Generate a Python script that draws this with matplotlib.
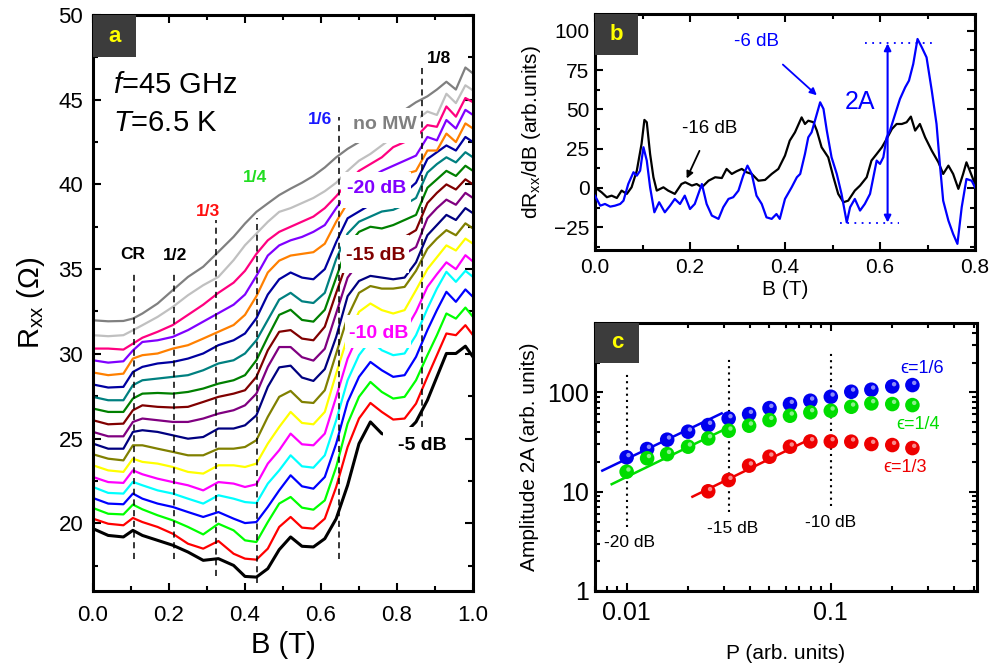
import numpy as np
import matplotlib
matplotlib.use('Agg')
import matplotlib.pyplot as plt
from matplotlib.patches import Rectangle
from matplotlib.ticker import MultipleLocator, FixedLocator, NullFormatter, FixedFormatter
import matplotlib.transforms as mtransforms

plt.rcParams['font.family'] = ['Liberation Sans', 'DejaVu Sans']
plt.rcParams['mathtext.fontset'] = 'custom'
plt.rcParams['mathtext.rm'] = 'Liberation Sans'
plt.rcParams['mathtext.it'] = 'Liberation Sans:italic'
plt.rcParams['mathtext.bf'] = 'Liberation Sans:bold'

# ---------------- panel a data ----------------
B_a = [0.00, 0.04, 0.08, 0.105, 0.13, 0.17, 0.21, 0.25, 0.29, 0.33, 0.37, 0.40, 0.43, 0.46, 0.49,
       0.52, 0.55, 0.58, 0.61, 0.64, 0.67, 0.70, 0.73, 0.76, 0.79, 0.82, 0.85, 0.88, 0.905, 0.93,
       0.955, 0.98, 1.00]

R_m5dB = [19.68, 19.28, 19.19, 19.58, 19.28, 18.99, 18.70, 18.30, 17.81, 17.91, 17.51, 16.86, 16.82, 17.32, 18.44,
          19.19, 18.64, 18.60, 19.09, 20.27, 22.24, 24.70, 25.98, 25.29, 25.10, 25.29, 25.98, 27.26, 28.64, 30.02,
          30.02, 30.45, 29.82]
R_red = [20.27, 19.97, 19.88, 20.31, 20.07, 19.78, 19.38, 18.79, 18.50, 18.95, 18.20, 17.91, 17.85, 18.50, 19.78,
         20.37, 19.74, 19.68, 20.27, 22.14, 24.50, 26.18, 27.10, 26.57, 26.12, 26.18, 27.06, 28.64, 29.92, 31.20,
         31.10, 31.69, 31.10]
R_green = [20.90, 20.56, 20.52, 21.10, 20.82, 20.47, 20.17, 19.78, 19.34, 19.97, 19.58, 18.99, 18.89, 20.07, 21.16,
           21.55, 20.92, 20.80, 21.35, 23.32, 25.88, 27.46, 28.34, 27.75, 27.36, 27.46, 28.44, 29.92, 31.10, 32.38,
           32.08, 32.73, 32.18]
R_blue = [21.49, 21.16, 21.12, 21.75, 21.45, 21.16, 20.96, 20.66, 20.37, 20.66, 20.27, 20.01, 20.07, 20.96, 21.94,
          22.83, 22.18, 22.04, 22.73, 24.70, 27.16, 28.64, 29.52, 29.03, 28.64, 28.74, 29.82, 31.40, 32.58, 33.66,
          33.07, 33.80, 33.36]
R_cyan = [22.14, 21.79, 21.75, 22.44, 22.24, 21.94, 21.75, 21.45, 21.16, 21.65, 21.45, 21.25, 21.19, 22.34, 23.12,
          24.01, 23.36, 23.28, 24.01, 26.08, 28.44, 29.92, 30.80, 30.21, 29.92, 30.02, 31.10, 32.67, 33.85, 34.84,
          34.25, 34.90, 34.54]
R_m10dB = [22.73, 22.43, 22.38, 23.12, 22.89, 22.63, 22.43, 22.24, 21.94, 22.43, 22.34, 22.14, 22.30, 23.52, 24.31,
           25.29, 24.66, 24.60, 25.29, 27.46, 29.72, 31.20, 32.08, 31.49, 31.20, 31.30, 32.48, 33.95, 34.70, 35.40,
           35.00, 35.82, 35.45]
R_yellow = [23.42, 23.12, 23.03, 23.81, 23.62, 23.52, 23.32, 23.03, 22.93, 23.42, 23.42, 23.32, 23.52, 24.70, 25.68,
            26.57, 25.92, 25.84, 26.57, 28.84, 31.00, 32.48, 32.97, 32.58, 32.38, 32.58, 33.76, 35.00, 35.70, 36.40,
            36.10, 36.80, 36.50]
R_dkyellow = [24.07, 23.81, 23.71, 24.60, 24.60, 24.40, 24.21, 24.01, 24.01, 24.40, 24.40, 24.50, 24.90, 26.28, 27.46,
              27.81, 27.16, 27.10, 27.85, 30.02, 32.18, 33.60, 34.00, 33.85, 33.85, 33.95, 34.90, 36.20, 36.80, 37.30,
              37.00, 37.70, 37.40]
R_navy = [24.70, 24.40, 24.40, 25.39, 25.49, 25.39, 25.19, 24.99, 25.09, 25.59, 25.59, 25.78, 26.37, 28.05, 29.20,
          29.30, 28.60, 28.40, 29.10, 31.00, 33.40, 34.30, 34.60, 34.50, 34.40, 34.50, 35.40, 37.00, 37.60, 38.20,
          37.90, 38.60, 38.30]
R_purple = [25.39, 25.13, 25.13, 25.98, 26.18, 26.08, 25.98, 25.98, 26.18, 26.47, 26.67, 26.96, 27.65, 29.23, 30.40,
            30.40, 29.80, 29.60, 30.30, 32.40, 34.50, 35.40, 35.80, 35.80, 35.80, 35.90, 36.30, 38.00, 38.60, 39.10,
            38.80, 39.50, 39.20]
R_m15dB = [26.08, 25.84, 25.88, 26.67, 26.96, 26.87, 26.83, 26.87, 27.16, 27.46, 27.65, 27.85, 28.64, 30.21, 31.30,
           31.40, 30.90, 30.80, 31.60, 33.60, 35.50, 36.40, 36.80, 36.80, 36.80, 36.90, 37.30, 38.90, 39.50, 40.00,
           39.70, 40.30, 40.00]
R_olive = [26.77, 26.57, 26.57, 27.36, 27.65, 27.69, 27.65, 27.75, 27.95, 28.24, 28.44, 28.74, 29.62, 31.00, 32.30,
           32.60, 32.00, 31.90, 32.60, 34.50, 36.40, 37.20, 37.50, 37.40, 37.60, 37.90, 38.20, 39.80, 40.30, 40.80,
           40.50, 41.10, 40.80]
R_dkcyan = [27.46, 27.26, 27.26, 28.15, 28.44, 28.54, 28.64, 28.74, 29.03, 29.43, 29.62, 30.02, 30.80, 32.00, 33.20,
            33.60, 33.10, 33.00, 33.60, 35.60, 37.10, 37.80, 38.10, 38.40, 38.50, 38.80, 39.20, 40.70, 41.20, 41.60,
            41.30, 41.90, 41.60]
R_royal = [28.19, 28.01, 28.05, 28.93, 29.23, 29.43, 29.52, 29.72, 30.02, 30.51, 30.80, 31.20, 32.10, 33.50, 34.40,
           34.80, 34.50, 34.40, 35.00, 36.60, 38.00, 38.40, 38.80, 39.00, 39.20, 39.50, 40.10, 41.50, 41.90, 42.30,
           42.00, 42.80, 42.50]
R_orange = [28.90, 28.74, 28.83, 29.72, 29.92, 30.02, 30.31, 30.51, 30.90, 31.30, 31.70, 32.30, 33.40, 34.80, 35.50,
            35.80, 35.90, 36.00, 36.50, 37.80, 38.90, 39.30, 39.60, 39.90, 40.20, 40.60, 40.80, 42.00, 42.00, 43.00,
            42.50, 43.60, 43.30]
R_m20dB = [29.62, 29.48, 29.56, 30.20, 30.70, 30.80, 31.00, 31.40, 31.90, 32.40, 32.90, 33.50, 34.60, 35.80, 36.40,
           36.70, 36.90, 37.20, 37.60, 38.60, 39.50, 40.00, 40.40, 40.80, 41.10, 41.40, 41.70, 42.80, 42.60, 43.80,
           43.30, 44.40, 44.10]
R_pink = [30.31, 30.31, 30.25, 30.60, 30.95, 31.30, 31.70, 32.30, 32.90, 33.60, 34.20, 34.90, 35.90, 36.70, 37.20,
          37.50, 37.80, 38.10, 38.60, 39.30, 40.10, 40.80, 41.20, 41.60, 42.20, 42.50, 42.80, 43.50, 43.40, 44.60,
          44.00, 45.10, 44.85]
R_ltgray = [31.10, 31.04, 31.10, 31.39, 31.69, 32.18, 32.77, 33.46, 34.05, 34.54, 35.53, 36.41, 37.10, 37.79, 38.38,
            38.60, 38.90, 39.20, 39.60, 40.10, 40.80, 41.40, 41.80, 42.30, 42.80, 43.30, 43.80, 44.30, 44.10, 45.35,
            44.80, 45.85, 45.55]
R_noMW = [31.98, 31.92, 31.94, 32.08, 32.38, 32.97, 33.76, 34.54, 35.14, 36.02, 36.91, 37.69, 38.38, 38.88, 39.37,
          39.75, 40.10, 40.50, 41.00, 41.60, 42.10, 42.50, 42.90, 43.30, 43.80, 44.40, 44.85, 45.20, 45.60, 46.06,
          45.60, 46.90, 46.55]

curves_a = [R_m5dB, R_red, R_green, R_blue, R_cyan, R_m10dB, R_yellow, R_dkyellow, R_navy, R_purple,
            R_m15dB, R_olive, R_dkcyan, R_royal, R_orange, R_m20dB, R_pink, R_ltgray, R_noMW]
colors_a = ['#000000', '#ff0000', '#00ff00', '#0000ff', '#00ffff', '#ff00ff', '#ffff00', '#808000', '#000080',
            '#800080', '#800000', '#008000', '#008080', '#0000a0', '#ff8000', '#8000ff', '#ff0080', '#c0c0c0',
            '#808080']

# dashed marker lines: position, bottom, top
marks_B = [0.108, 0.214, 0.324, 0.432, 0.648, 0.865]
marks_lo = [17.87, 17.87, 16.9, 16.5, 17.9, 25.7]
marks_hi = [34.9, 34.9, 37.9, 38.0, 44.0, 47.0]

# ---------------- panel b data ----------------
B_b16 = [0, 0.014, 0.025, 0.035, 0.046, 0.056, 0.067, 0.077, 0.088, 0.098,
         0.104, 0.109, 0.116, 0.123, 0.13, 0.144, 0.154, 0.168, 0.182, 0.19,
         0.204, 0.214, 0.225, 0.239, 0.253, 0.267, 0.277, 0.288, 0.298, 0.309,
         0.319, 0.33, 0.344, 0.358, 0.372, 0.386, 0.4, 0.41, 0.421, 0.435,
         0.442, 0.449, 0.46, 0.467, 0.477, 0.491, 0.502, 0.512, 0.523, 0.533,
         0.547, 0.558, 0.572, 0.582, 0.593, 0.604, 0.614, 0.625, 0.635, 0.646,
         0.656, 0.665, 0.674, 0.684, 0.695, 0.709, 0.723, 0.733, 0.744, 0.754,
         0.765, 0.775, 0.782, 0.789, 0.8]
dR_16dB = [0.4, -2.8, -5.9, -4.9, -6.4, -1.7, -3.8, 0.4, 11.0, 28.0,
           43.3, 41.8, 21.6, 6.8, -1.7, 0.4, -1.7, -3.8, 2.5, 3.6,
           1.5, 2.5, 0.4, 4.6, 6.8, 6.3, 12.1, 8.9, 10.6, 12.1,
           10.0, 8.9, 4.6, 5.1, 8.9, 12.1, 20.6, 30.1, 35.4, 44.9,
           40.7, 42.8, 41.8, 36.5, 25.9, 19.5, 6.8, -3.8, -9.1, -8.1,
           -1.7, 1.5, 6.8, 17.4, 21.6, 25.9, 31.2, 37.5, 40.7, 40.7,
           41.8, 45.4, 36.5, 40.7, 32.2, 23.7, 16.3, 8.9, 14.2, 8.9,
           -0.6, 8.9, 16.3, 11.0, 2.5]
B_b6 = [0, 0.011, 0.021, 0.032, 0.042, 0.053, 0.06, 0.07, 0.081, 0.088,
        0.095, 0.102, 0.109, 0.116, 0.125, 0.135, 0.147, 0.158, 0.168, 0.179,
        0.189, 0.2, 0.21, 0.225, 0.235, 0.246, 0.26, 0.27, 0.281, 0.291,
        0.302, 0.312, 0.321, 0.33, 0.34, 0.351, 0.361, 0.372, 0.382, 0.389,
        0.4, 0.414, 0.425, 0.432, 0.442, 0.449, 0.456, 0.463, 0.474, 0.481,
        0.488, 0.498, 0.509, 0.519, 0.53, 0.537, 0.547, 0.558, 0.568, 0.579,
        0.586, 0.593, 0.6, 0.607, 0.614, 0.621, 0.632, 0.642, 0.653, 0.661,
        0.67, 0.679, 0.688, 0.698, 0.709, 0.719, 0.726, 0.733, 0.744, 0.754,
        0.763, 0.772, 0.782, 0.793, 0.8]
dR_6dB = [-5.0, -11.3, -10.2, -11.9, -11.3, -10.2, -8.1, 2.5, 10.0, 7.8,
          11.0, 25.9, 17.4, 0.4, -15.5, -9.1, -15.5, -11.3, -7.0, -10.2,
          -4.9, -13.4, -10.2, 2.5, -10.2, -17.6, -19.7, -12.3, -7.0, -5.9,
          -1.7, 7.8, 14.2, 8.9, -4.9, -10.2, -18.7, -19.7, -16.6, -19.7,
          -7.0, 0.4, 6.8, 8.9, 21.6, 32.2, 35.4, 42.8, 54.5, 50.3,
          36.5, 19.5, 8.9, -3.8, -21.9, -12.3, -7.0, -14.4, -10.2, -3.8,
          6.8, 17.4, 15.3, 19.5, 32.2, 36.5, 47.1, 56.6, 64.0, 68.3,
          78.9, 94.8, 89.5, 83.1, 61.9, 40.7, 15.3, -8.1, -20.8, -29.3,
          -35.6, -12.3, 5.7, 4.6, 0.4]
amp_top, amp_bot, amp_B = 92.0, -22.0, 0.616

# ---------------- panel c data ----------------
P_all = [0.01, 0.0126, 0.0158, 0.02, 0.0251, 0.0316, 0.0398, 0.0501, 0.0631, 0.0794, 0.1, 0.126, 0.158, 0.2, 0.251]
A_e16 = [22.2, 26.9, 33.4, 40.2, 46.9, 54.7, 60.5, 69.5, 76.3, 82.4, 90.4, 101.5, 106.4, 114.9, 118.5]
A_e14 = [15.9, 21.7, 23.9, 28.4, 34.4, 41.1, 46.2, 52.6, 58.2, 62.9, 65.4, 71.7, 77.5, 76.3, 74.5]
P_e13 = [0.0251, 0.0316, 0.0398, 0.0501, 0.0631, 0.0794, 0.1, 0.126, 0.158, 0.2, 0.251]
A_e13 = [10.1, 13.1, 18.3, 22.5, 28.4, 32.1, 32.1, 31.9, 30.2, 29.5, 27.5]
fit16_P, fit16_A = [0.0076, 0.0292], [16.3, 61.5]
fit14_P, fit14_A = [0.00845, 0.0321], [11.9, 45.1]
fit13_P, fit13_A = [0.0210, 0.0804], [8.9, 34.4]
dB_P = [0.01, 0.0316, 0.1]
dB_lo = [4.4, 6.2, 7.1]
dB_hi = [159, 228, 259]
dB_labels = ['-20 dB', '-15 dB', '-10 dB']

# ---------------- figure ----------------
fig = plt.figure(figsize=(9.91, 6.71), dpi=100)
axa = fig.add_axes([93/991, 80/671, 380/991, 576/671])
axb = fig.add_axes([595/991, 421/671, 380/991, 236/671])
axc = fig.add_axes([595/991, 80/671, 382/991, 268/671])


def style(ax, lw=2.0, size=15):
    for s in ax.spines.values():
        s.set_linewidth(lw)
    ax.tick_params(which='both', direction='in', top=True, right=True, width=1.5)
    ax.tick_params(which='major', length=6, labelsize=size)
    ax.tick_params(which='minor', length=3.5)


def tag(ax, letter, w, h):
    ax.add_patch(Rectangle((0, 1 - h), w, h, transform=ax.transAxes, facecolor='#3c3c3c',
                           edgecolor='none', zorder=8))
    ax.text(w / 2, 1 - h / 2, letter, transform=ax.transAxes, color='#ffff00', fontsize=16,
            fontweight='bold', ha='center', va='center', zorder=9)

# ----- panel a -----
for R, c in zip(curves_a, colors_a):
    axa.plot(B_a, R, color=c, lw=2.2 if c == '#000000' else 1.6, zorder=2, solid_joinstyle='round')
for xb, lo, hi in zip(marks_B, marks_lo, marks_hi):
    axa.plot([xb, xb], [lo, hi], color='black', lw=1.1, ls=(0, (4, 3)), zorder=2.5)

# white backgrounds of the power labels
for (x0, x1, y0, y1) in [(0.68, 0.861, 42.45, 44.5), (0.653, 0.837, 38.6, 40.73),
                         (0.653, 0.832, 34.8, 37.0), (0.663, 0.837, 30.33, 32.28),
                         (0.763, 0.94, 23.9, 25.66)]:
    axa.add_patch(Rectangle((x0, y0), x1 - x0, y1 - y0, facecolor='white', edgecolor='none', zorder=3))

axa.text(0.053, 45.87, r'$\mathit{f}$=45 GHz', fontsize=21, ha='left', va='center', zorder=5)
axa.text(0.053, 43.6, r'$\mathit{T}$=6.5 K', fontsize=21, ha='left', va='center', zorder=5)
lab_kw = dict(ha='center', va='center', fontweight='bold', zorder=5)
axa.text(0.91, 47.46, '1/8', fontsize=12.5, color='black', **lab_kw)
axa.text(0.597, 43.86, '1/6', fontsize=12.5, color='#1a1aff', **lab_kw)
axa.text(0.426, 40.43, '1/4', fontsize=12.5, color='#22dd22', **lab_kw)
axa.text(0.303, 38.42, '1/3', fontsize=12.5, color='#ff1010', **lab_kw)
axa.text(0.105, 35.88, 'CR', fontsize=12.5, color='black', **lab_kw)
axa.text(0.216, 35.82, '1/2', fontsize=12.5, color='black', **lab_kw)
axa.text(0.768, 43.56, 'no MW', fontsize=14, color='#808080', **lab_kw)
axa.text(0.747, 39.78, '-20 dB', fontsize=14, color='#8000ff', **lab_kw)
axa.text(0.745, 35.82, '-15 dB', fontsize=14, color='#800000', **lab_kw)
axa.text(0.753, 31.22, '-10 dB', fontsize=14, color='#ff00ff', **lab_kw)
axa.text(0.866, 24.6, '-5 dB', fontsize=14, color='black', **lab_kw)

axa.set_xlim(0, 1.0)
axa.set_ylim(16, 50)
axa.xaxis.set_major_locator(MultipleLocator(0.2))
axa.xaxis.set_minor_locator(MultipleLocator(0.1))
axa.yaxis.set_major_locator(MultipleLocator(5))
axa.yaxis.set_minor_locator(MultipleLocator(2.5))
axa.xaxis.set_major_formatter(matplotlib.ticker.FormatStrFormatter('%.1f'))
style(axa, lw=2.2, size=16)
axa.tick_params(axis='x', pad=10)
axa.tick_params(axis='y', pad=7)
axa.set_xlabel('B (T)', fontsize=21, labelpad=4)
axa.set_ylabel(r'R$_\mathregular{xx}$ ($\Omega$)', fontsize=21, labelpad=8)
tag(axa, 'a', 0.113, 0.073)

# ----- panel b -----
axb.plot(B_b16, dR_16dB, color='black', lw=1.6, zorder=3)
axb.plot(B_b6, dR_6dB, color='#0000ff', lw=1.6, zorder=3)
axb.plot([0.568, 0.716], [amp_top, amp_top], color='#0000ff', lw=1.3, ls=(0, (1, 3)), zorder=2)
axb.plot([0.516, 0.639], [amp_bot, amp_bot], color='#0000ff', lw=1.3, ls=(0, (1, 3)), zorder=2)
axb.annotate('', xy=(amp_B, amp_top), xytext=(amp_B, amp_bot),
             arrowprops=dict(arrowstyle='<|-|>', color='#0000ff', lw=1.5, mutation_scale=10,
                             shrinkA=0, shrinkB=0), zorder=4)
axb.text(0.558, 54.5, '2A', color='#0000ff', fontsize=18, ha='center', va='center')
axb.annotate('-6 dB', xy=(0.467, 59), xytext=(0.341, 93.4), color='#0000ff', fontsize=13.5,
             ha='center', va='center',
             arrowprops=dict(arrowstyle='-|>', color='#0000ff', lw=1.3, mutation_scale=10,
                             shrinkA=13, shrinkB=0))
axb.annotate('-16 dB', xy=(0.193, 6), xytext=(0.242, 38), color='black', fontsize=13.5,
             ha='center', va='center',
             arrowprops=dict(arrowstyle='-|>', color='black', lw=1.3, mutation_scale=10,
                             shrinkA=9, shrinkB=0))
axb.set_xlim(0, 0.8)
axb.set_ylim(-39.5, 110.7)
axb.xaxis.set_major_locator(MultipleLocator(0.2))
axb.xaxis.set_minor_locator(MultipleLocator(0.1))
axb.yaxis.set_major_locator(MultipleLocator(25))
axb.yaxis.set_minor_locator(MultipleLocator(12.5))
axb.xaxis.set_major_formatter(matplotlib.ticker.FormatStrFormatter('%.1f'))
style(axb, lw=2.2, size=15)
axb.tick_params(axis='x', pad=6)
axb.tick_params(axis='y', pad=4)
axb.set_xlabel('B (T)', fontsize=15, labelpad=2)
axb.set_ylabel(r'dR$_\mathregular{xx}$/dB (arb.units)', fontsize=15, labelpad=8)
tag(axb, 'b', 0.113, 0.174)

# ----- panel c -----
axc.set_xscale('log')
axc.set_yscale('log')
for xp, lo, hi in zip(dB_P, dB_lo, dB_hi):
    axc.plot([xp, xp], [lo, hi], color='black', lw=1.5, ls=(0, (1, 2)), zorder=2)
axc.text(0.01034, 3.1, dB_labels[0], fontsize=12.5, ha='center', va='center')
axc.text(0.0331, 4.3, dB_labels[1], fontsize=12.5, ha='center', va='center')
axc.text(0.1, 4.93, dB_labels[2], fontsize=12.5, ha='center', va='center')

hl = mtransforms.offset_copy(axc.transData, fig=fig, x=1.3, y=1.6, units='points')
for P, A, fp, fa, col in [(P_all, A_e16, fit16_P, fit16_A, '#0000ee'),
                          (P_all, A_e14, fit14_P, fit14_A, '#00dd00'),
                          (P_all[4:], A_e13, fit13_P, fit13_A, '#ee0000')]:
    axc.plot(fp, fa, color=col, lw=1.8, zorder=3)
    axc.scatter(P, A, s=110, color=col, edgecolors='none', zorder=4)
    axc.scatter(P, A, s=10, color='white', alpha=0.55, edgecolors='none', zorder=5, transform=hl)

axc.text(0.279, 174, '\u03f5=1/6', color='#0000ee', fontsize=13, ha='center', va='center')
axc.text(0.267, 47.7, '\u03f5=1/4', color='#00dd00', fontsize=13, ha='center', va='center')
axc.text(0.231, 17.6, '\u03f5=1/3', color='#ee0000', fontsize=13, ha='center', va='center')

axc.set_xlim(0.007, 0.52)
axc.set_ylim(1, 500)
axc.xaxis.set_major_locator(FixedLocator([0.01, 0.1]))
axc.xaxis.set_major_formatter(FixedFormatter(['0.01', '0.1']))
axc.xaxis.set_minor_locator(FixedLocator([0.007, 0.008, 0.009, 0.02, 0.03, 0.04, 0.05, 0.06, 0.07, 0.08, 0.09,
                                          0.2, 0.3, 0.4, 0.5]))
axc.xaxis.set_minor_formatter(NullFormatter())
axc.yaxis.set_major_locator(FixedLocator([1, 10, 100]))
axc.yaxis.set_major_formatter(FixedFormatter(['1', '10', '100']))
axc.yaxis.set_minor_locator(FixedLocator([2, 3, 4, 5, 6, 7, 8, 9, 20, 30, 40, 50, 60, 70, 80, 90,
                                          200, 300, 400]))
axc.yaxis.set_minor_formatter(NullFormatter())
style(axc, lw=2.2, size=18)
axc.tick_params(axis='x', pad=7)
axc.tick_params(axis='y', pad=4)
axc.set_xlabel('P (arb. units)', fontsize=15, labelpad=14)
axc.set_ylabel('Amplitude 2A (arb. units)', fontsize=15, labelpad=6)
tag(axc, 'c', 0.115, 0.149)

fig.savefig('out.png', dpi=100)
